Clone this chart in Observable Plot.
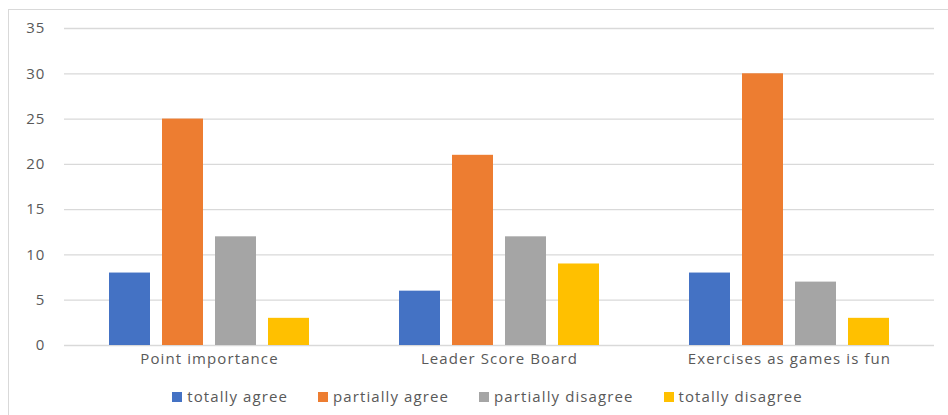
<!DOCTYPE html>
<html><head><meta charset="utf-8">
<script src="https://cdn.jsdelivr.net/npm/d3@7"></script>
<script src="https://cdn.jsdelivr.net/npm/@observablehq/plot@0.6"></script>
<style>
body{margin:0;background:#fff;font-family:"Open Sans",sans-serif;}
#frame{position:absolute;left:8px;top:9px;width:960px;height:420px;border:1.5px solid #d9d9d9;box-sizing:border-box;}
#chart{position:absolute;left:0;top:0;}
#chart svg text{letter-spacing:1.1px;}
#legend{position:absolute;top:386px;left:0;width:975px;display:flex;justify-content:center;gap:30px;font-size:15px;letter-spacing:1.1px;color:#595959;}
#legend span.sw{display:inline-block;width:10px;height:10px;margin-right:5px;vertical-align:middle;position:relative;top:-1px;}
</style></head>
<body>
<div id="frame"></div>
<div id="chart"></div>
<div id="legend"></div>
<script>
const categories = ["Point importance", "Leader Score Board", "Exercises as games is fun"];
const series = ["totally agree", "partially agree", "partially disagree", "totally disagree"];
const colors = ["#4472c4", "#ed7d31", "#a5a5a5", "#ffc000"];
const values = [
  [8, 25, 12, 3],
  [6, 21, 12, 9],
  [8, 30, 7, 3]
];
const yTicks = [0, 5, 10, 15, 20, 25, 30, 35];

const data = [];
categories.forEach((c, i) => series.forEach((s, j) => data.push({cat: c, ser: s, v: values[i][j]})));

const H = 380;
const plot = Plot.plot({
  width: 948, height: H,
  marginLeft: 63, marginRight: 13, marginTop: 28, marginBottom: H - 345,
  style: {fontFamily: "Open Sans, sans-serif", fontSize: "15px", color: "#595959", background: "transparent"},
  fx: {domain: categories, padding: 0, label: null, tickSize: 0},
  x: {domain: series, paddingInner: 0.23, paddingOuter: 0.835, axis: null},
  y: {domain: [0, 35], ticks: yTicks, label: null},
  color: {domain: series, range: colors},
  marks: [
    Plot.gridY(yTicks, {stroke: "#d9d9d9", strokeOpacity: 1, strokeWidth: 1.3}),
    Plot.barY(data, {fx: "cat", x: "ser", y: "v", fill: "ser"}),
    Plot.axisY(yTicks, {tickSize: 0, tickPadding: 19, fontSize: 15, fill: "#595959"}),
    Plot.axisFx({anchor: "bottom", tickSize: 0, tickPadding: 8, fontSize: 15, fill: "#595959", label: null})
  ]
});
document.getElementById("chart").appendChild(plot);

const lg = d3.select("#legend");
series.forEach((s, i) => {
  const item = lg.append("div");
  item.append("span").attr("class", "sw").style("background", colors[i]);
  item.append("span").text(s);
});
</script>
</body></html>
